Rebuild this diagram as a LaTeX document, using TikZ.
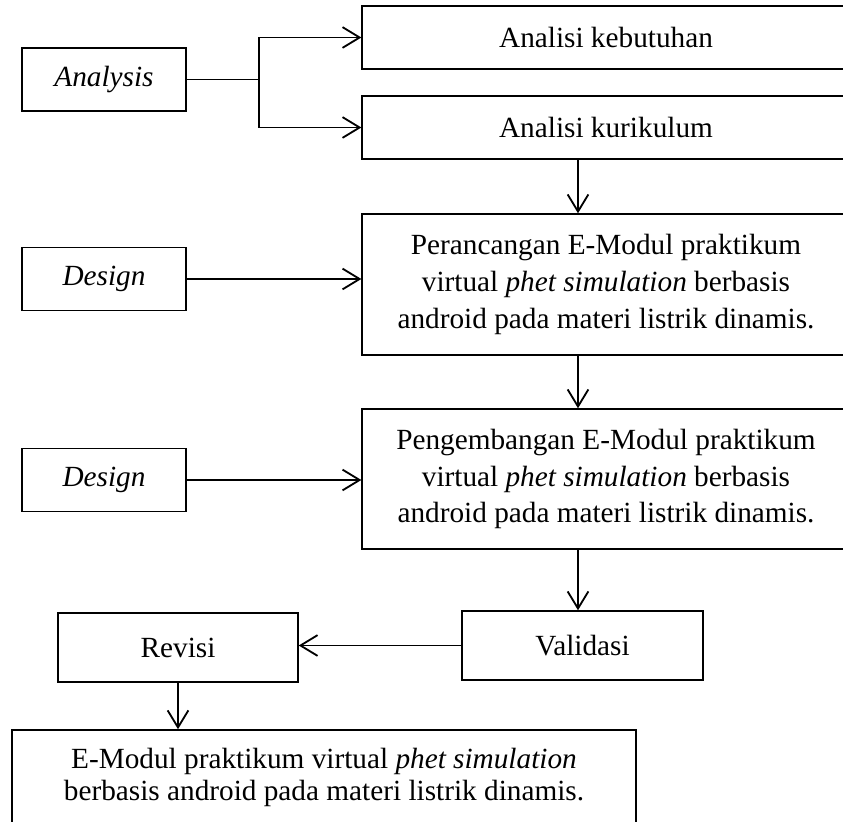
\documentclass[tikz,border=0pt]{standalone}
\usepackage{fontspec}
\setmainfont{Liberation Serif}
\usetikzlibrary{arrows.meta,positioning}
\tikzset{
	box/.style = {draw, line width = 0.6pt, align = center, inner sep = 2pt, font = \fontsize{12}{15}\selectfont},
	stage/.style = {box, minimum width = 67.2pt, minimum height = 25.8pt, font = \fontsize{12}{15}\selectfont\itshape},
	wide/.style = {box, minimum width = 200pt},
	flow/.style = {-{Straight Barb[length = 7pt, width = 8.5pt]}, line width = 0.75pt}
}

\begin{document}
\begin{tikzpicture}[x = 0.41pt, y = -0.41pt]
	\useasboundingbox (0,0) rectangle (843,822);

	\node (analysis) [stage] at (104,79.5) {Analysis};
	\node (keb) [wide, minimum height = 25.8pt] at (606,37.5) {Analisi kebutuhan};
	\node (kur) [wide, minimum height = 25.8pt] at (606,127.5) {Analisi kurikulum};

	\node (design1) [stage] at (104,279) {Design};
	\node (per) [wide, minimum height = 57.8pt] at (606,284.5)
		{Perancangan E-Modul praktikum\\ virtual \textit{phet simulation} berbasis\\ android pada materi listrik dinamis.};

	\node (design2) [stage] at (104,480) {Design};
	\node (peng) [wide, minimum height = 57.4pt] at (606,479)
		{Pengembangan E-Modul praktikum\\ virtual \textit{phet simulation} berbasis\\ android pada materi listrik dinamis.};

	\node (val) [box, minimum width = 98.8pt, minimum height = 28.3pt] at (582.5,645.5) {Validasi};
	\node (rev) [box, minimum width = 98.4pt, minimum height = 28.3pt] at (178,647.5) {Revisi};
	\node (fin) [box, minimum width = 255.8pt, minimum height = 39pt, font = \fontsize{12}{13}\selectfont] at (324,777.5)
		{E-Modul praktikum virtual \textit{phet simulation}\\ berbasis android pada materi listrik dinamis.};

	% analysis branches
	\coordinate (split) at (259,0);
	\draw [line width = 0.75pt] (analysis.east) -- (analysis.east -| split);
	\draw [flow] (analysis.east -| split) |- (keb.west);
	\draw [flow] (analysis.east -| split) |- (kur.west);

	% main flow
	\coordinate (spine) at (578,0);
	\draw [flow] (kur.south -| spine) -- (per.north -| spine);
	\draw [flow] (per.south -| spine) -- (peng.north -| spine);
	\draw [flow] (peng.south -| spine) -- (val.north -| spine);
	\draw [flow] (design1.east) -- (design1.east -| per.west);
	\draw [flow] (design2.east) -- (design2.east -| peng.west);
	\draw [flow] (val.west) -- (val.west -| rev.east);
	\draw [flow] (rev.south) -- (rev.south |- fin.north);
\end{tikzpicture}
\end{document}
